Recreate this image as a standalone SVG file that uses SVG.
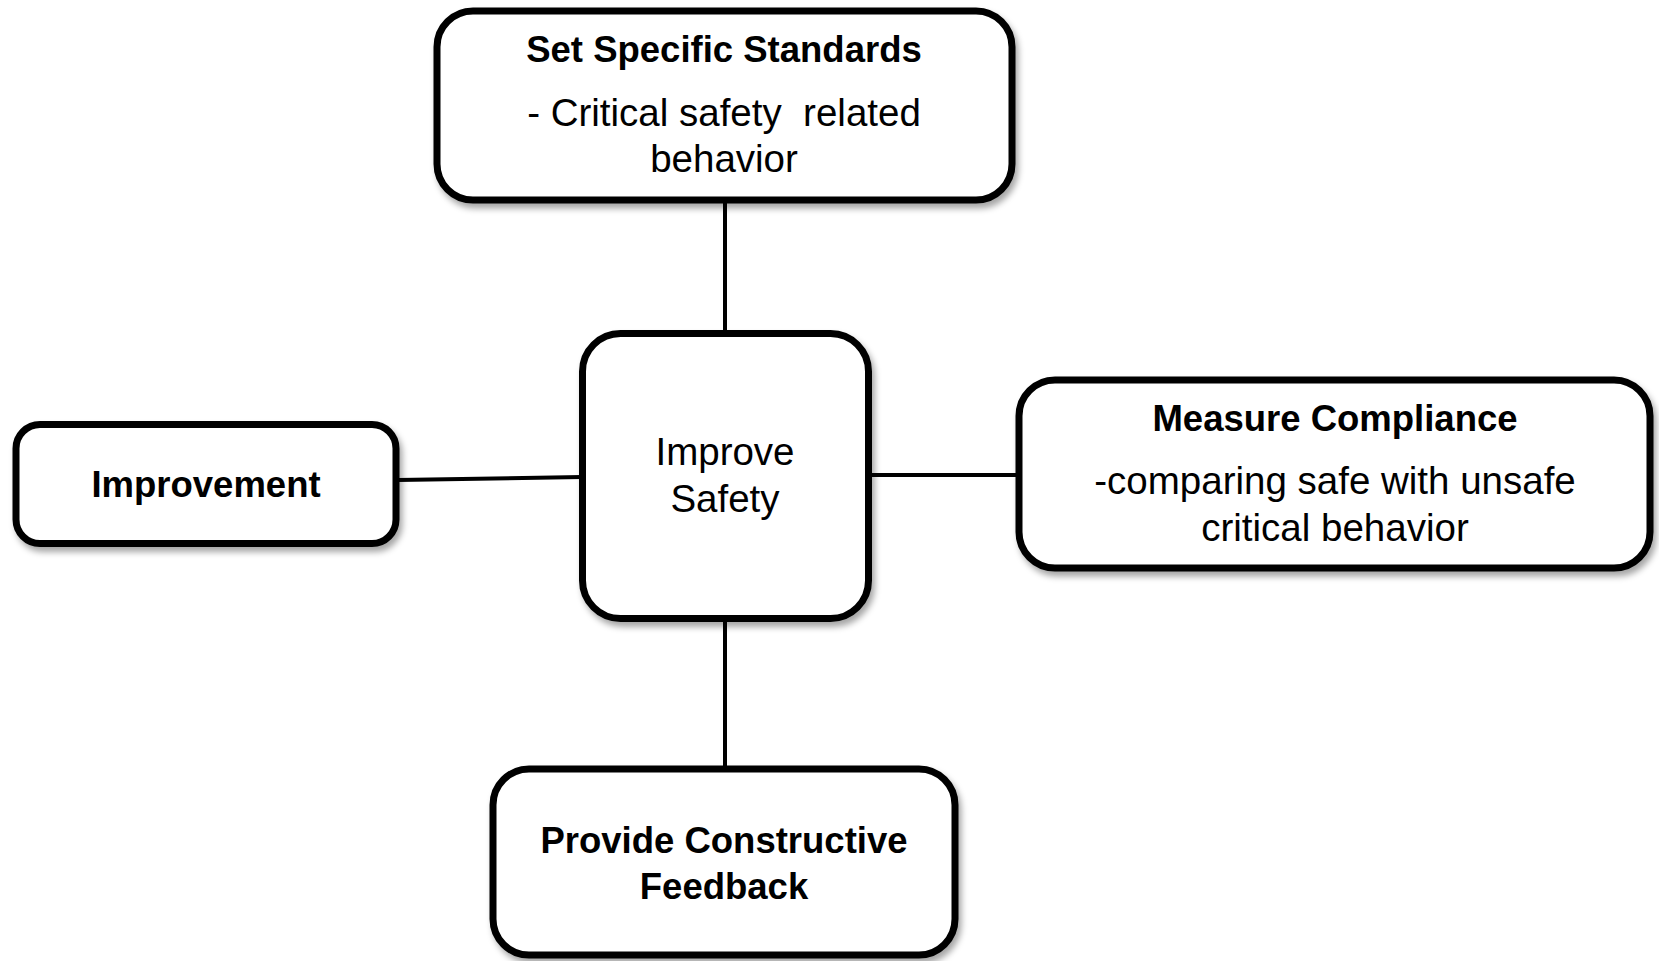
<svg xmlns="http://www.w3.org/2000/svg" width="1659" height="961" viewBox="0 0 1659 961">
<defs>
<filter id="sh" x="-10%" y="-10%" width="125%" height="130%">
<feDropShadow dx="3" dy="5" stdDeviation="3" flood-color="#000" flood-opacity="0.35"/>
</filter>
<style>
.box{fill:#fff;stroke:#000;stroke-width:7;filter:url(#sh)}
.t{font-family:"Liberation Sans",Arial,sans-serif;font-size:38.5px;fill:#000;text-anchor:middle;white-space:pre}
.b{font-weight:bold;font-size:36.5px}
.c{stroke:#000;stroke-width:4;fill:none}
</style>
</defs>
<g id="connectors">
<line class="c" x1="725" y1="201" x2="725" y2="333"/>
<line class="c" x1="725" y1="619" x2="725" y2="768"/>
<line class="c" x1="398" y1="480" x2="582" y2="477"/>
<line class="c" x1="868" y1="475" x2="1018" y2="475"/>
</g>
<g id="set-standards">
<rect class="box" x="437" y="11" width="575" height="189" rx="36"/>
<text class="t b" x="724" y="62">Set Specific Standards</text>
<text class="t" x="724" y="126" xml:space="preserve">- Critical safety  related</text>
<text class="t" x="724" y="172">behavior</text>
</g>
<g id="improve-safety">
<rect class="box" x="582.5" y="333.5" width="286" height="285" rx="38"/>
<text class="t" x="725" y="465">Improve</text>
<text class="t" x="725" y="512">Safety</text>
</g>
<g id="improvement">
<rect class="box" x="16" y="424.5" width="380" height="119" rx="24"/>
<text class="t b" x="206" y="497">Improvement</text>
</g>
<g id="measure-compliance">
<rect class="box" x="1019" y="380" width="631" height="188" rx="36"/>
<text class="t b" x="1335" y="431">Measure Compliance</text>
<text class="t" x="1335" y="494">-comparing safe with unsafe</text>
<text class="t" x="1335" y="541">critical behavior</text>
</g>
<g id="feedback">
<rect class="box" x="493" y="769" width="462" height="186" rx="36"/>
<text class="t b" x="724" y="853">Provide Constructive</text>
<text class="t b" x="724" y="899">Feedback</text>
</g>
</svg>
